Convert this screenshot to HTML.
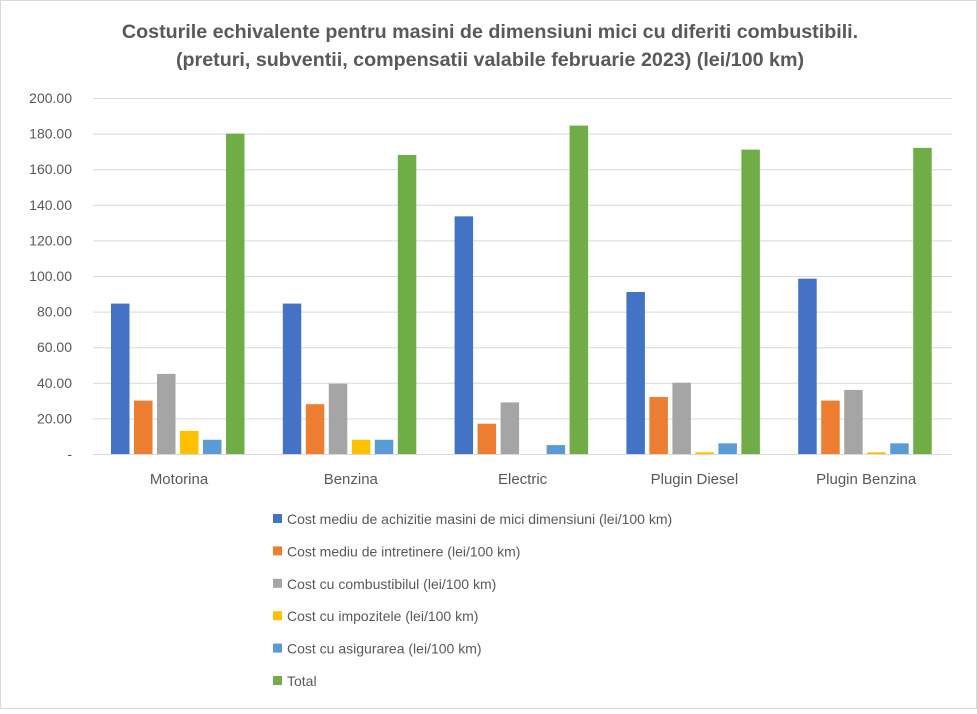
<!DOCTYPE html>
<html><head><meta charset="utf-8"><style>
body{margin:0;background:#fff}
svg text{font-family:"Liberation Sans",Arial,sans-serif;fill:#595959}
</style></head><body>
<svg width="977" height="709" xmlns="http://www.w3.org/2000/svg">
<rect x="0.5" y="0.5" width="976" height="708" fill="#fff" stroke="#d9d9d9"/>
<text x="490" y="38" text-anchor="middle" font-size="19.7" font-weight="bold">Costurile echivalente pentru masini de dimensiuni mici cu diferiti combustibili.</text>
<text x="490" y="66" text-anchor="middle" font-size="19.7" font-weight="bold">(preturi, subventii, compensatii valabile februarie 2023) (lei/100 km)</text>
<g id="grid" stroke="#d9d9d9" stroke-width="1"></g>
<g id="ylab" font-size="14"></g>
<g id="bars"></g>
<g id="xlab" font-size="15"></g>
<g id="leg" font-size="14"></g>
</svg>
<script>
const ns="http://www.w3.org/2000/svg";
function el(t,a,p,txt){const e=document.createElementNS(ns,t);for(const k in a)e.setAttribute(k,a[k]);if(txt!=null)e.textContent=txt;document.getElementById(p).appendChild(e);return e;}
const y0=454,sc=1.78;
for(let k=0;k<=10;k++){const y=y0-35.6*k;
 el('line',{x1:93,x2:952,y1:y+0.5,y2:y+0.5},'grid');
 el('text',{x:72,y:y+5,'text-anchor':'end'},'ylab',k==0?'-':(k*20).toFixed(2));}
const cols=["#4472C4","#ED7D31","#A5A5A5","#FFC000","#5B9BD5","#70AD47"];
const data=[["Motorina",[84.5,30,45,13,8,180]],["Benzina",[84.5,28,39.5,8,8,168]],["Electric",[133.5,17,29,0,5,184.5]],["Plugin Diesel",[91,32,40,1,6,171]],["Plugin Benzina",[98.5,30,36,1,6,172]]];
data.forEach((d,i)=>{const gx=93+i*171.8;
 d[1].forEach((v,j)=>{const h=v*sc;el('rect',{x:gx+18+j*23,y:y0-h,width:18.5,height:h,fill:cols[j]},'bars');});
 el('text',{x:gx+86,y:484,'text-anchor':'middle'},'xlab',d[0]);});
const L=["Cost mediu de achizitie masini de mici dimensiuni (lei/100 km)","Cost mediu de intretinere (lei/100 km)","Cost cu combustibilul (lei/100 km)","Cost cu impozitele (lei/100 km)","Cost cu asigurarea (lei/100 km)","Total"];
L.forEach((t,i)=>{const y=519+i*32.4;el('rect',{x:273,y:y-5,width:9,height:9,fill:cols[i]},'leg');el('text',{x:287,y:y+5},'leg',t);});
</script>
</body></html>
